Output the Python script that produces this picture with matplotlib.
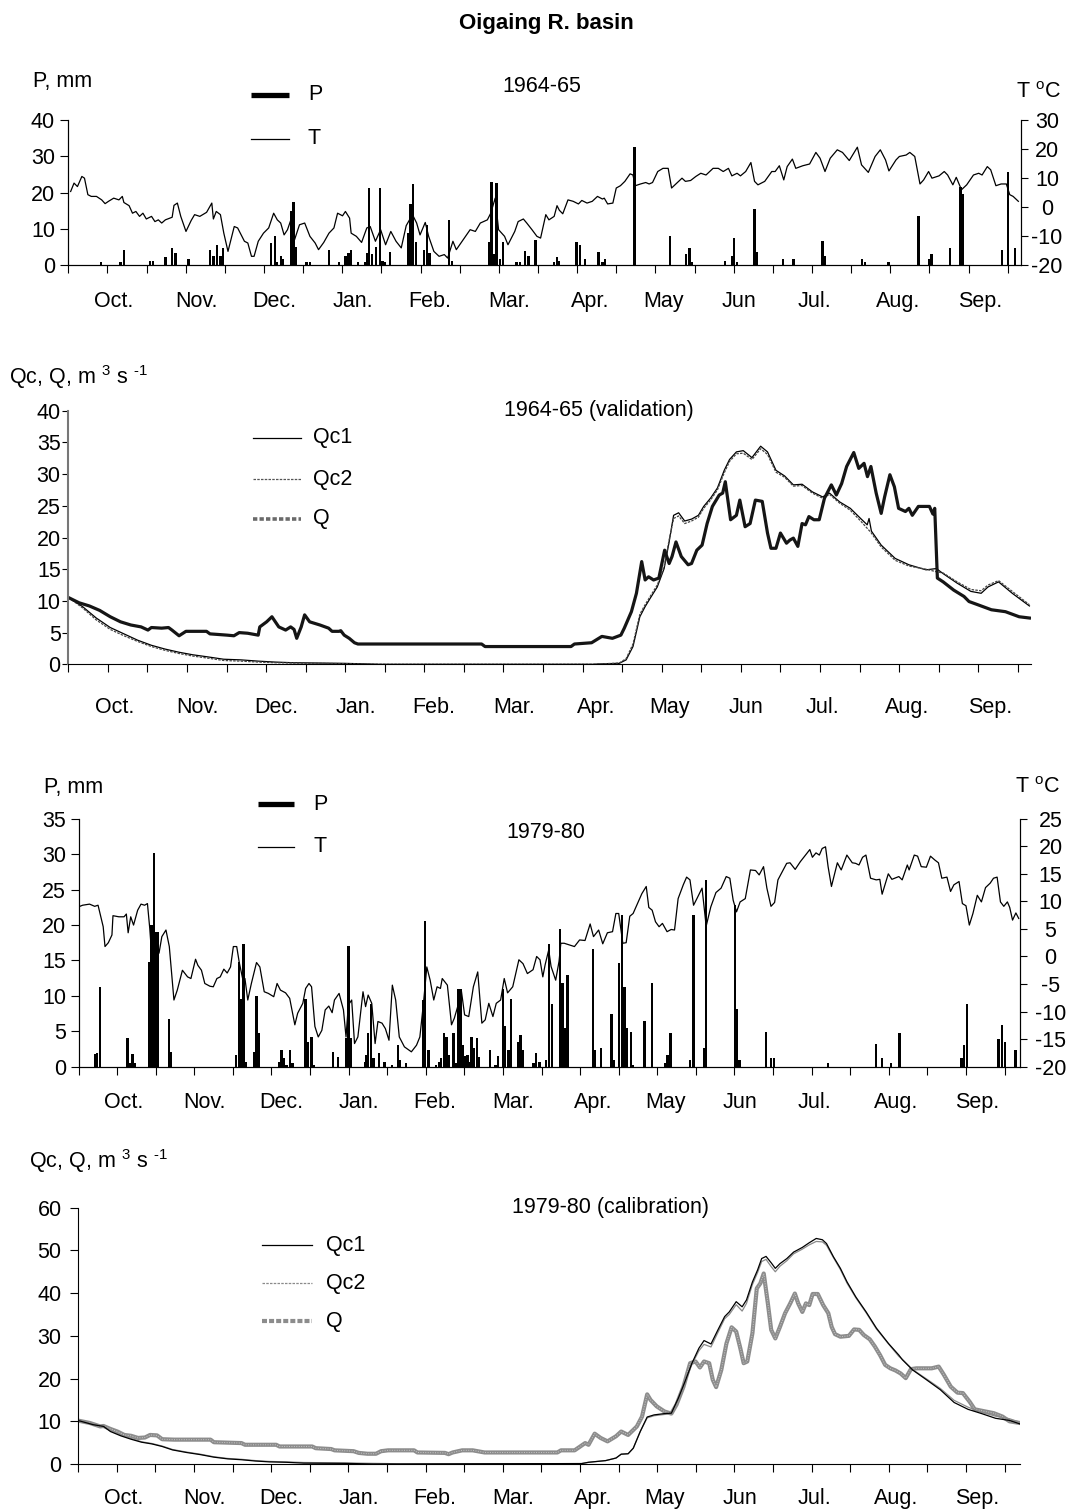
import numpy as np
import matplotlib
matplotlib.use("Agg")
import matplotlib.pyplot as plt
from matplotlib.lines import Line2D

plt.rcParams['font.family'] = ['Liberation Sans', 'DejaVu Sans']
plt.rcParams['mathtext.fontset'] = 'custom'
plt.rcParams['mathtext.rm'] = 'Liberation Sans'
plt.rcParams['mathtext.it'] = 'Liberation Sans:italic'
plt.rcParams['axes.unicode_minus'] = False
FS = 15.5
plt.rcParams['font.size'] = FS

# hydrological year, day 0 = 1 October
months = ['Oct.', 'Nov.', 'Dec.', 'Jan.', 'Feb.', 'Mar.', 'Apr.', 'May', 'Jun', 'Jul.', 'Aug.', 'Sep.']
month_pos = [17.5, 49, 79, 109, 138.5, 169, 200, 228, 257, 286, 318, 349.5]

# ---- 1964-65: daily precipitation (day, mm) and air temperature (day, degC)
p_6465 = [(12.5, 0.7), (20.0, 0.7), (21.3, 4.2), (31.2, 1.2), (32.5, 1.2), (37.2, 2.2), (39.8, 4.7),
          (41.1, 3.3), (46.1, 1.7), (54.3, 4.2), (55.6, 2.6), (57.0, 5.6), (58.3, 2.6), (59.3, 4.7),
          (77.8, 6.1), (79.1, 8.1), (80.1, 0.7), (81.4, 2.6), (82.4, 1.7), (85.3, 15.0), (86.3, 17.3),
          (87.3, 5.1), (91.3, 0.7), (92.6, 0.7), (99.9, 4.2), (103.8, 0.7), (106.2, 2.6), (107.4, 3.3),
          (108.4, 4.2), (111.1, 0.7), (113.7, 0.7), (114.4, 3.3), (115.2, 21.4), (116.4, 3.1),
          (118.0, 5.1), (119.4, 21.4), (120.4, 1.2), (121.4, 0.7), (123.4, 3.6), (130.2, 8.8),
          (131.1, 16.9), (132.2, 22.4), (133.3, 6.3), (136.4, 4.2), (137.5, 11.0), (138.4, 3.3),
          (146.0, 12.5), (147.0, 1.2), (161.2, 6.3), (162.2, 23.0), (163.2, 3.1), (164.1, 22.6),
          (165.5, 1.7), (166.5, 6.3), (171.8, 0.7), (173.1, 0.7), (175.1, 3.8), (176.4, 2.4),
          (179.1, 7.0), (186.2, 0.7), (187.3, 2.2), (188.0, 1.2), (194.8, 6.3), (196.1, 5.6),
          (198.1, 1.7), (203.2, 3.6), (204.7, 0.7), (205.8, 1.7), (217.0, 32.7), (230.5, 8.1),
          (236.8, 3.1), (238.1, 4.7), (239.1, 0.7), (251.7, 1.2), (254.3, 2.6), (255.0, 7.4),
          (256.3, 0.7), (263.0, 15.4), (264.0, 3.6), (273.9, 1.7), (277.9, 1.7), (289.0, 6.5),
          (289.8, 2.6), (304.3, 1.7), (305.3, 0.7), (314.3, 0.7), (325.8, 13.6), (330.1, 1.7),
          (330.8, 3.1), (337.9, 4.7), (341.9, 21.5), (342.8, 19.5), (357.9, 4.2), (360.1, 25.8),
          (362.8, 4.7)]

t_6465 = [(0.9, 5.4), (2.2, 8.3), (3.5, 7.1), (5.2, 10.6), (6.2, 10.0), (7.5, 4.3), (8.8, 3.7),
          (10.8, 3.7), (12.8, 2.5), (14.1, 1.2), (15.4, 2.0), (17.4, 3.1), (19.4, 2.5), (20.7, 3.7),
          (21.3, 1.6), (23.3, 0.5), (24.6, -2.1), (25.9, -1.5), (27.3, -3.2), (28.6, -2.1),
          (29.9, -4.1), (31.9, -3.2), (33.2, -5.0), (34.5, -4.4), (35.8, -5.5), (37.2, -4.4),
          (39.8, -3.5), (40.5, 0.6), (41.8, 1.4), (43.1, -3.2), (45.1, -8.4), (47.1, -4.6),
          (48.4, -2.6), (50.4, -3.2), (53.0, -1.8), (55.0, 1.4), (55.6, -4.1), (56.7, -1.5),
          (58.3, -2.6), (59.6, -9.0), (61.2, -15.3), (63.6, -6.7), (64.9, -7.2), (67.5, -11.8),
          (68.8, -12.4), (70.2, -17.0), (71.2, -17.0), (72.8, -11.8), (74.8, -9.0), (76.8, -7.2),
          (78.7, -2.1), (80.1, -4.4), (81.4, -5.5), (82.7, -9.6), (84.0, -7.8), (85.3, -4.4),
          (86.7, -11.3), (88.6, -6.1), (90.6, -5.5), (92.6, -10.1), (94.6, -12.4), (95.9, -14.7),
          (97.9, -12.2), (99.9, -9.0), (101.8, -7.2), (103.2, -2.1), (105.1, -3.0), (106.2, -1.5),
          (107.8, -3.8), (108.4, -9.0), (110.4, -10.1), (112.4, -12.2), (114.4, -7.2),
          (115.7, -6.7), (117.7, -11.8), (119.7, -7.8), (121.6, -13.0), (123.6, -8.4),
          (125.6, -11.8), (127.6, -14.1), (129.5, -6.4), (131.9, -2.6), (133.5, -5.5),
          (134.8, -9.6), (136.8, -5.3), (138.1, -10.1), (140.1, -15.3), (142.1, -17.0),
          (144.1, -16.4), (145.4, -17.6), (147.4, -11.8), (148.7, -14.7), (151.3, -11.3),
          (154.0, -7.8), (156.0, -8.4), (157.9, -5.5), (160.6, -4.4), (161.9, -2.1), (163.6, 3.1),
          (164.9, -7.8), (167.2, -10.1), (168.5, -13.0), (171.1, -8.4), (172.4, -5.0),
          (174.4, -4.1), (175.7, -5.5), (177.7, -7.8), (179.6, -10.1), (181.0, -10.7),
          (183.0, -2.6), (184.2, -4.4), (186.2, -3.2), (187.3, 0.5), (188.2, -1.1), (189.5, -2.3),
          (191.5, 2.5), (193.5, 2.0), (195.5, 1.1), (196.8, 2.3), (198.8, 1.4), (200.8, 2.0),
          (202.8, 3.7), (204.7, 2.8), (205.4, 3.1), (206.7, 1.1), (208.7, 1.4), (210.0, 6.6),
          (211.6, 7.4), (213.3, 8.9), (215.3, 11.5), (216.4, 11.1), (217.3, 7.4), (219.3, 8.0),
          (221.3, 8.5), (222.6, 8.0), (223.9, 8.5), (225.9, 12.3), (227.9, 13.4), (229.9, 13.4),
          (231.2, 6.6), (232.5, 7.7), (235.2, 10.0), (236.5, 8.9), (238.5, 9.2), (240.5, 10.6),
          (242.4, 11.7), (244.4, 11.1), (247.1, 13.4), (249.1, 13.4), (251.0, 12.3), (253.0, 13.4),
          (254.3, 10.8), (256.3, 11.7), (257.6, 10.8), (259.6, 12.3), (261.6, 15.4), (263.0, 8.9),
          (264.3, 7.7), (266.9, 8.9), (269.6, 12.3), (270.9, 12.3), (272.5, 14.3), (274.2, 9.4),
          (275.5, 14.0), (277.5, 16.6), (278.8, 13.4), (281.5, 14.3), (284.1, 14.9), (286.5, 18.9),
          (288.1, 16.9), (290.0, 12.3), (292.0, 16.9), (294.7, 19.8), (296.7, 18.9), (299.3, 16.1),
          (302.4, 20.7), (304.0, 14.6), (306.6, 12.0), (309.2, 17.5), (311.2, 19.8), (313.2, 16.3),
          (314.5, 12.5), (317.2, 16.3), (318.5, 17.5), (321.1, 18.0), (322.5, 18.9), (324.4, 17.5),
          (326.4, 8.0), (327.8, 9.4), (329.7, 12.3), (331.0, 10.0), (333.7, 10.8), (335.7, 12.3),
          (337.0, 11.1), (339.0, 7.7), (340.3, 10.3), (342.3, 6.0), (344.3, 7.7), (346.9, 11.1),
          (348.9, 11.7), (350.2, 11.1), (352.2, 14.0), (353.5, 12.9), (355.5, 7.4), (357.5, 8.0),
          (359.5, 8.0), (360.8, 4.3), (362.1, 3.7), (364.1, 2.0)]

# ---- 1964-65: computed (Qc1, Qc2) and observed (Q) discharge, m3/s
qc1_6465 = [(0.2, 10.5), (5.4, 9.1), (10.6, 7.3), (15.9, 5.8), (21.1, 4.8), (26.3, 3.8), (31.5, 3.0),
            (36.7, 2.4), (42.0, 1.9), (47.2, 1.5), (52.4, 1.2), (58.9, 0.8), (65.4, 0.7), (72.0, 0.5),
            (78.5, 0.35), (85.0, 0.25), (104.6, 0.15), (113.7, 0.05), (118.0, 0.0), (199.0, 0.0),
            (201.0, 0.05), (208.9, 0.15), (211.5, 0.7), (214.1, 2.8), (216.7, 7.5), (218.7, 9.1),
            (220.6, 10.4), (223.3, 12.2), (225.9, 15.1), (227.8, 19.3), (229.5, 23.5), (231.4, 23.9),
            (233.7, 22.6), (236.3, 22.9), (238.9, 23.5), (240.9, 24.9), (243.5, 26.2), (246.1, 27.8),
            (248.7, 30.6), (250.7, 32.3), (253.3, 33.5), (255.9, 33.7), (259.2, 32.6), (262.5, 34.4),
            (265.1, 33.5), (268.3, 30.6), (271.6, 29.7), (274.9, 28.3), (278.2, 28.4), (282.1, 27.2),
            (286.0, 26.4), (288.6, 27.0), (292.5, 25.6), (296.5, 24.6), (300.4, 23.0), (302.9, 22.0),
            (303.6, 23.0), (304.5, 21.0), (308.2, 18.8), (313.5, 16.7), (318.7, 15.7), (325.2, 14.9),
            (329.1, 15.1), (331.7, 14.3), (337.0, 12.8), (342.2, 11.5), (346.1, 11.2), (348.7, 12.2),
            (352.7, 13.0), (357.9, 11.2), (364.4, 9.2)]

qc2_6465 = [(0.2, 10.5), (5.4, 8.9), (10.6, 7.0), (15.9, 5.5), (21.1, 4.5), (26.3, 3.6), (31.5, 2.8),
            (36.7, 2.2), (42.0, 1.7), (47.2, 1.3), (52.4, 1.0), (58.9, 0.6), (65.4, 0.5), (72.0, 0.35),
            (78.5, 0.25), (85.0, 0.2), (104.6, 0.1), (113.7, 0.03), (120.0, 0.0), (199.0, 0.0),
            (201.0, 0.05), (208.9, 0.2), (211.5, 0.9), (214.1, 3.2), (216.7, 7.9), (218.7, 9.4),
            (220.6, 10.7), (223.3, 12.5), (225.9, 15.4), (227.8, 19.6), (229.5, 23.0), (231.4, 23.4),
            (233.7, 22.2), (236.3, 22.6), (238.9, 23.2), (240.9, 24.6), (243.5, 25.9), (246.1, 27.5),
            (248.7, 30.2), (250.7, 32.0), (253.3, 33.2), (255.9, 33.3), (259.2, 32.3), (262.5, 34.0),
            (265.1, 33.1), (268.3, 30.3), (271.6, 29.5), (274.9, 28.1), (278.2, 28.2), (282.1, 27.0),
            (286.0, 26.2), (288.6, 26.8), (292.5, 25.4), (296.5, 24.3), (300.4, 22.6), (304.3, 20.8),
            (308.2, 18.5), (313.5, 16.4), (318.7, 15.5), (325.2, 15.0), (329.1, 14.6), (331.7, 14.4),
            (337.0, 13.0), (342.2, 11.8), (346.1, 11.6), (348.7, 12.5), (352.7, 13.2), (357.9, 11.5),
            (364.4, 9.4)]

q_6465 = [(0.2, 10.5), (4.1, 9.7), (8.0, 9.2), (11.9, 8.5), (15.9, 7.5), (19.8, 6.7), (23.7, 6.2),
          (27.6, 5.9), (30.2, 5.4), (31.5, 5.8), (35.4, 5.7), (38.0, 5.8), (39.3, 5.4), (42.0, 4.5),
          (44.6, 5.2), (52.4, 5.2), (53.7, 4.8), (60.2, 4.6), (62.8, 4.5), (64.8, 5.0), (68.0, 4.9),
          (72.0, 4.6), (72.6, 5.9), (75.2, 6.7), (77.2, 7.5), (79.8, 5.9), (82.4, 5.4), (84.3, 5.9),
          (85.6, 5.5), (86.6, 4.1), (88.3, 5.9), (89.6, 7.8), (91.5, 6.7), (95.4, 6.2), (98.7, 5.7),
          (100.0, 5.2), (102.6, 5.2), (103.3, 5.3), (104.6, 4.6), (106.5, 4.1), (108.5, 3.4),
          (109.8, 3.2), (156.7, 3.2), (158.0, 2.8), (190.6, 2.8), (191.9, 3.2), (198.4, 3.4),
          (202.3, 4.4), (206.3, 4.1), (209.5, 4.6), (210.8, 5.7), (213.5, 8.3), (215.4, 11.2),
          (217.4, 16.2), (218.7, 13.3), (220.0, 13.8), (221.9, 13.3), (223.9, 13.6), (226.1, 18.0),
          (227.8, 15.9), (228.9, 17.0), (230.4, 19.3), (232.4, 17.0), (235.0, 15.7), (236.3, 15.9),
          (238.3, 18.0), (240.3, 18.8), (242.2, 22.2), (244.2, 24.9), (246.8, 26.7), (248.1, 27.0),
          (249.1, 28.8), (251.1, 22.8), (253.3, 23.5), (254.6, 25.9), (256.6, 21.7), (258.5, 22.2),
          (260.5, 25.9), (263.1, 25.7), (265.1, 20.7), (266.4, 18.3), (268.3, 18.3), (270.0, 20.7),
          (272.3, 19.1), (273.6, 19.6), (274.9, 19.9), (276.6, 18.6), (278.2, 22.2), (279.5, 22.0),
          (280.8, 23.3), (282.7, 22.8), (284.7, 22.8), (286.7, 26.2), (289.3, 28.3), (291.2, 26.7),
          (293.2, 28.5), (295.1, 31.2), (297.8, 33.4), (299.7, 30.9), (301.7, 31.7), (303.0, 29.6),
          (304.3, 31.2), (306.3, 27.0), (308.2, 23.8), (309.5, 26.4), (311.5, 29.9), (313.2, 28.0),
          (314.8, 24.6), (317.4, 24.1), (318.7, 24.6), (320.0, 23.5), (322.3, 24.9), (326.5, 24.9),
          (327.8, 23.7), (328.5, 24.6), (329.5, 13.6), (331.7, 13.0), (335.7, 11.7), (339.6, 10.7),
          (341.5, 9.9), (344.8, 9.4), (350.0, 8.6), (355.3, 8.3), (360.5, 7.5), (364.4, 7.3)]

# ---- 1979-80: daily precipitation (day, mm) and air temperature (day, degC)
p_7980 = [(6.3, 1.8), (7.2, 2.0), (8.3, 11.3), (19.0, 4.1), (20.1, 0.5), (21.0, 1.8), (22.0, 0.5),
          (27.3, 14.8), (28.4, 20.0), (29.3, 30.2), (30.0, 19.0), (30.8, 19.0), (35.1, 6.8),
          (36.0, 2.1), (61.1, 1.6), (62.5, 14.8), (63.4, 9.6), (64.2, 17.3), (65.2, 0.7), (68.2, 2.1),
          (69.2, 10.0), (70.1, 4.7), (77.9, 0.6), (78.9, 2.4), (79.9, 1.2), (80.9, 0.2), (82.1, 2.4),
          (83.2, 0.5), (88.3, 9.6), (89.2, 3.5), (90.6, 4.2), (91.5, 0.2), (99.0, 2.1), (101.0, 1.4),
          (104.0, 4.0), (104.9, 17.0), (106.0, 4.0), (111.3, 0.7), (112.0, 1.6), (112.6, 4.7),
          (113.7, 8.9), (114.7, 1.2), (116.7, 1.9), (118.9, 0.7), (122.0, 0.2), (124.3, 3.1),
          (125.1, 1.0), (127.4, 0.5), (133.8, 9.4), (134.7, 20.5), (136.1, 2.4), (139.1, 0.2),
          (140.1, 0.6), (141.0, 1.2), (142.1, 4.7), (143.1, 4.2), (144.1, 1.6), (145.8, 4.7),
          (146.8, 0.5), (147.7, 10.9), (148.5, 10.9), (149.4, 3.1), (150.4, 1.5), (151.2, 1.6),
          (152.1, 0.7), (152.8, 4.2), (153.8, 2.6), (154.8, 4.1), (155.7, 1.4), (160.1, 2.4),
          (162.1, 0.2), (163.2, 1.5), (165.1, 11.0), (165.9, 5.7), (167.2, 2.4), (168.2, 9.6),
          (170.8, 3.5), (171.8, 4.5), (172.6, 2.4), (176.9, 0.5), (177.9, 1.9), (179.2, 0.6),
          (181.8, 1.0), (182.8, 17.3), (184.1, 8.9), (187.2, 19.4), (188.1, 11.8), (189.2, 5.4),
          (190.1, 12.9), (199.9, 16.6), (200.9, 2.4), (203.2, 2.6), (207.2, 7.5), (208.2, 1.0),
          (210.0, 14.7), (211.3, 21.4), (212.3, 11.3), (213.3, 5.4), (214.7, 4.9), (215.6, 0.2),
          (220.0, 6.5), (223.0, 11.8), (228.1, 0.5), (229.0, 1.6), (230.1, 4.7), (237.7, 1.0),
          (239.1, 21.4), (243.1, 2.6), (244.0, 26.3), (255.2, 22.8), (255.8, 8.1), (256.9, 1.0),
          (267.2, 4.9), (269.2, 1.2), (270.3, 1.2), (291.4, 0.5), (310.1, 3.2), (312.4, 1.2),
          (315.9, 0.5), (319.1, 4.7), (343.3, 1.2), (344.1, 3.1), (345.4, 8.8), (357.7, 3.9),
          (359.1, 5.9), (360.1, 3.5), (364.2, 2.4)]

t_7980 = [(0.0, 9.0), (1.6, 9.3), (4.3, 9.5), (6.3, 9.1), (7.6, 9.3), (9.6, 5.4), (10.3, 1.8),
          (11.6, 2.5), (13.0, 3.9), (13.4, 7.4), (15.7, 7.2), (17.7, 7.2), (18.6, 7.7), (19.3, 4.3),
          (20.3, 7.2), (21.4, 5.7), (23.0, 8.4), (24.3, 9.5), (25.7, 9.3), (26.8, 9.6), (27.7, 5.1),
          (28.4, 0.6), (30.0, 1.8), (31.3, 0.6), (32.4, 3.6), (34.0, 4.8), (35.3, 1.8), (37.1, -7.9),
          (38.4, -6.1), (40.4, -2.5), (42.4, -3.7), (43.7, -4.0), (45.5, -0.5), (46.4, -1.6),
          (47.8, -2.5), (49.1, -4.9), (51.1, -5.4), (52.4, -5.5), (53.8, -4.0), (55.1, -3.7),
          (56.5, -2.3), (57.8, -3.0), (59.1, -1.9), (60.2, 1.8), (61.5, 1.8), (62.5, -1.1),
          (63.8, -4.0), (64.7, -4.0), (65.8, -7.9), (67.2, -4.9), (69.2, -1.1), (70.5, -1.9),
          (72.2, -6.4), (73.8, -6.7), (75.9, -7.3), (77.2, -4.9), (78.5, -6.1), (80.5, -6.6),
          (82.1, -7.6), (84.1, -12.4), (85.2, -10.3), (87.2, -8.5), (88.3, -5.8), (89.6, -4.9),
          (90.6, -5.5), (91.9, -12.7), (93.2, -14.6), (94.6, -13.4), (95.9, -9.7), (97.3, -9.0),
          (98.6, -10.2), (99.5, -7.9), (101.3, -6.7), (103.0, -9.7), (104.0, -14.6), (104.9, -8.8),
          (106.2, -7.9), (107.3, -15.8), (108.6, -14.6), (110.6, -6.4), (111.6, -9.1), (112.6, -7.0),
          (114.0, -8.5), (115.3, -15.8), (116.4, -11.8), (118.0, -12.1), (119.3, -13.1),
          (120.7, -15.2), (122.0, -5.2), (123.3, -7.9), (124.7, -14.6), (126.7, -16.4),
          (129.4, -17.3), (131.4, -16.1), (132.7, -14.6), (134.1, -8.5), (135.4, -1.9),
          (136.7, -4.3), (138.1, -7.9), (139.4, -5.5), (140.7, -5.8), (141.4, -4.0), (143.4, -5.2),
          (145.0, -12.4), (146.1, -11.2), (147.4, -9.1), (148.8, -6.1), (150.1, -10.6),
          (151.7, -10.9), (153.5, -5.5), (155.2, -2.8), (156.8, -12.1), (158.1, -11.5),
          (159.5, -8.5), (161.1, -10.9), (162.4, -8.5), (164.1, -7.9), (165.5, -4.0), (166.8, -6.6),
          (168.8, -5.5), (171.2, -0.6), (172.8, -1.3), (174.5, -3.1), (176.7, -2.4), (178.1, 0.0),
          (179.4, -0.6), (180.5, -3.7), (181.4, -1.5), (182.8, 1.2), (183.7, -1.8), (185.5, -4.3),
          (186.8, -0.9), (187.5, 2.4), (188.8, 2.4), (190.8, 2.1), (192.8, 1.8), (194.8, 3.0),
          (196.9, 2.9), (198.9, 5.9), (200.2, 3.6), (202.2, 4.8), (203.8, 2.3), (205.6, 4.3),
          (207.6, 4.5), (208.9, 7.8), (210.0, 7.8), (211.6, 2.4), (212.9, 2.5), (214.3, 7.3),
          (215.6, 7.8), (217.0, 9.3), (219.0, 11.4), (220.7, 12.7), (221.7, 8.9), (223.0, 8.4),
          (224.3, 6.3), (225.7, 5.4), (227.0, 6.0), (228.8, 4.5), (230.4, 4.9), (231.7, 4.8),
          (233.1, 10.5), (235.1, 13.0), (236.4, 14.4), (237.7, 13.9), (239.1, 9.3), (240.4, 10.5),
          (242.4, 12.4), (244.0, 5.5), (245.8, 9.0), (247.8, 11.6), (249.8, 12.4), (251.8, 14.5),
          (253.2, 14.2), (254.5, 10.2), (255.8, 8.1), (257.2, 9.9), (259.2, 10.5), (261.2, 15.7),
          (263.2, 15.6), (264.6, 14.8), (266.3, 16.3), (267.6, 12.4), (269.2, 9.1), (270.6, 9.8),
          (271.9, 13.9), (275.3, 16.9), (276.6, 17.0), (278.6, 15.8), (280.6, 17.2), (282.6, 18.4),
          (284.3, 19.4), (285.3, 18.0), (286.7, 18.8), (288.0, 18.4), (289.1, 19.6), (290.4, 19.9),
          (291.4, 16.3), (292.7, 12.7), (295.0, 17.0), (296.5, 15.7), (298.7, 18.4), (300.8, 17.0),
          (302.1, 16.9), (303.4, 16.6), (304.8, 18.0), (306.1, 18.4), (307.9, 14.2), (310.1, 13.9),
          (311.5, 14.0), (312.4, 11.3), (314.8, 15.0), (316.2, 14.0), (318.9, 14.5), (320.2, 13.9),
          (322.2, 16.6), (322.9, 15.7), (324.9, 18.4), (326.2, 18.2), (327.6, 16.3), (329.6, 16.2),
          (331.2, 18.2), (332.9, 17.5), (334.3, 17.0), (335.6, 14.2), (337.6, 14.4), (339.0, 11.8),
          (340.3, 13.0), (342.3, 13.6), (343.6, 9.6), (345.0, 9.2), (346.3, 5.7), (347.7, 7.8),
          (349.4, 11.1), (351.0, 9.9), (352.6, 12.5), (354.4, 13.3), (355.7, 14.2), (357.1, 14.4),
          (358.4, 9.9), (359.7, 9.1), (361.1, 9.9), (362.0, 8.9), (363.1, 6.6), (364.4, 7.9),
          (365.5, 6.9)]

# ---- 1979-80: computed (Qc1, Qc2) and observed (Q) discharge, m3/s
qc1_7980 = [(0.4, 10.1), (5.8, 9.2), (9.8, 8.8), (12.5, 7.6), (16.5, 6.6), (20.5, 5.8), (24.6, 5.1),
            (28.6, 4.7), (32.6, 4.1), (36.6, 3.3), (42.0, 2.7), (47.4, 2.2), (52.7, 1.6), (58.1, 1.2),
            (63.4, 1.0), (68.8, 0.7), (74.2, 0.5), (80.9, 0.4), (87.6, 0.2), (103.7, 0.15),
            (114.4, 0.0), (195.6, 0.1), (198.3, 0.4), (205.0, 0.8), (209.0, 1.4), (211.0, 2.3),
            (213.7, 2.4), (215.7, 3.7), (218.4, 7.6), (221.1, 11.0), (223.8, 11.5), (227.8, 11.8),
            (230.5, 11.9), (233.2, 15.4), (235.8, 19.3), (238.5, 23.6), (241.2, 27.1), (243.2, 28.9),
            (245.9, 28.1), (248.6, 31.4), (251.2, 34.5), (253.0, 35.6), (255.7, 38.0), (258.0, 36.8),
            (259.7, 38.4), (262.0, 42.6), (264.0, 45.4), (265.6, 48.1), (267.3, 48.6), (269.3, 47.1),
            (270.9, 45.8), (272.7, 46.9), (275.4, 48.1), (278.0, 49.6), (281.4, 50.7), (284.1, 51.8),
            (286.8, 52.8), (289.2, 52.5), (290.8, 51.6), (293.5, 48.5), (296.2, 45.8), (298.8, 42.6),
            (302.2, 39.1), (306.2, 35.6), (310.2, 31.8), (314.9, 28.2), (318.9, 25.5), (320.3, 24.4),
            (324.3, 22.0), (329.7, 19.7), (335.0, 17.4), (340.4, 14.4), (345.8, 12.8), (351.1, 11.8),
            (356.5, 10.7), (361.9, 10.2), (365.9, 9.4)]

qc2_7980 = [(0.4, 10.3), (5.8, 9.3), (9.8, 8.9), (12.5, 7.8), (16.5, 6.8), (20.5, 6.0), (24.6, 5.2),
            (28.6, 4.8), (32.6, 4.2), (36.6, 3.4), (42.0, 2.8), (47.4, 2.3), (52.7, 1.7), (58.1, 1.3),
            (63.4, 1.1), (68.8, 0.8), (74.2, 0.6), (80.9, 0.5), (87.6, 0.35), (103.7, 0.25),
            (114.4, 0.15), (120.4, 0.1), (125.0, 0.0), (195.6, 0.1), (198.3, 0.4), (205.0, 0.8),
            (209.0, 1.4), (211.0, 2.3), (213.7, 2.4), (215.7, 3.7), (218.4, 7.6), (221.1, 10.8),
            (223.8, 11.3), (227.8, 11.6), (230.5, 11.8), (233.2, 15.2), (235.8, 19.1), (238.5, 23.3),
            (241.2, 26.5), (243.2, 28.0), (245.9, 27.4), (248.6, 30.8), (251.2, 34.0), (253.0, 35.0),
            (255.7, 37.3), (258.0, 35.8), (259.7, 37.6), (262.0, 42.0), (264.0, 44.8), (265.6, 47.4),
            (267.3, 47.9), (269.3, 46.2), (270.9, 45.0), (272.7, 46.3), (275.4, 47.6), (278.0, 49.2),
            (281.4, 50.3), (284.1, 51.3), (286.8, 52.1), (289.2, 52.0), (290.8, 51.2), (293.5, 48.3),
            (296.2, 45.5), (298.8, 42.3), (302.2, 38.9), (306.2, 35.4), (310.2, 31.6), (314.9, 28.1),
            (318.9, 25.2), (320.3, 24.5), (324.3, 22.1), (329.7, 19.9), (335.0, 17.7), (340.4, 14.9),
            (345.8, 13.3), (351.1, 12.1), (356.5, 11.2), (361.9, 10.6), (365.9, 9.8)]

q_7980 = [(0.4, 10.1), (4.5, 9.6), (8.5, 8.8), (9.8, 8.9), (12.5, 8.2), (15.2, 7.6), (17.9, 6.8),
          (20.5, 6.6), (23.2, 6.1), (25.9, 6.2), (27.9, 6.8), (30.6, 6.7), (32.6, 5.8), (37.3, 5.7),
          (51.4, 5.7), (52.7, 5.1), (63.4, 4.9), (64.8, 4.5), (76.9, 4.5), (78.2, 4.1), (90.9, 4.1),
          (92.3, 3.7), (98.3, 3.5), (99.6, 3.2), (107.0, 3.0), (109.0, 2.6), (112.4, 2.4),
          (115.7, 2.4), (117.7, 3.0), (120.4, 3.2), (130.5, 3.2), (131.8, 2.7), (142.5, 2.6),
          (143.9, 2.3), (145.5, 2.7), (149.2, 3.2), (153.3, 3.2), (157.9, 2.7), (186.2, 2.7),
          (187.6, 3.2), (192.9, 3.2), (197.0, 4.9), (198.3, 4.5), (200.7, 7.1), (203.0, 6.1),
          (205.7, 5.3), (209.0, 6.5), (211.0, 7.6), (213.7, 6.8), (217.1, 8.8), (219.1, 11.1),
          (221.1, 16.3), (222.4, 15.0), (224.8, 13.5), (227.8, 12.3), (230.5, 11.8), (232.5, 13.9),
          (235.2, 18.1), (237.8, 23.6), (239.9, 24.0), (241.6, 22.6), (243.2, 24.0), (245.2, 23.6),
          (246.6, 19.7), (247.9, 18.0), (249.9, 22.0), (251.9, 28.2), (253.9, 32.0), (255.7, 31.0),
          (257.3, 27.1), (258.6, 23.6), (260.0, 24.0), (262.0, 30.6), (263.7, 41.1), (265.1, 42.3),
          (266.4, 44.6), (268.0, 37.6), (269.3, 31.4), (270.9, 29.4), (272.7, 32.1), (274.7, 35.3),
          (276.7, 37.6), (278.5, 39.9), (279.8, 37.6), (281.4, 35.6), (282.8, 37.6), (284.1, 37.2),
          (285.4, 39.8), (287.4, 39.8), (289.5, 37.2), (291.5, 35.3), (292.8, 32.1), (294.1, 30.4),
          (296.2, 29.8), (299.5, 30.0), (301.5, 31.5), (303.5, 31.4), (305.3, 30.2), (307.6, 29.2),
          (309.6, 27.5), (311.6, 25.5), (313.6, 23.2), (315.6, 22.4), (317.6, 21.9), (319.6, 21.2),
          (321.6, 20.1), (323.6, 22.2), (325.7, 22.4), (331.7, 22.4), (334.4, 22.8), (336.4, 20.9),
          (339.1, 18.1), (341.7, 16.7), (343.8, 16.6), (346.4, 14.6), (348.4, 12.8), (352.5, 12.3),
          (355.8, 11.9), (359.2, 11.1), (361.9, 10.0), (365.9, 9.6)]


def cols(pairs):
    a = np.array(pairs, dtype=float)
    return a[:, 0], a[:, 1]


W, H = 1071, 1511
fig = plt.figure(figsize=(W / 100, H / 100), dpi=100)


def px_axes(left, top, right, bottom):
    return fig.add_axes([left / W, 1 - bottom / H, (right - left) / W, (bottom - top) / H])


def fx(x):
    return x / W


def fy(y):
    return 1 - y / H


def time_axis(ax, ndays, label_pad):
    ax.set_xlim(0, ndays)
    ax.set_xticks(np.arange(0, ndays, 15))
    ax.set_xticklabels([])
    ax.set_xticks(month_pos, months, minor=True)
    ax.tick_params(axis='x', which='major', length=6, width=0.8, direction='out')
    ax.tick_params(axis='x', which='minor', length=0, pad=label_pad, labelsize=FS)
    ax.spines['top'].set_visible(False)


def legend_entry(x0, x1, y, xt, label, **kw):
    fig.add_artist(Line2D([fx(x0), fx(x1)], [fy(y), fy(y)], transform=fig.transFigure, **kw))
    fig.text(fx(xt), fy(y), label, va='center', ha='left', fontsize=FS)


def right_labels_centered(ax2, pad):
    ax2.tick_params(axis='y', length=5, width=0.8, pad=pad, labelsize=FS)
    for lab in ax2.get_yticklabels():
        lab.set_horizontalalignment('center')


QUNIT = r'Qc, Q, m $^{3}$ s $^{\text{-1}}$'
TUNIT = r'T $^{\mathrm{o}}$C'

fig.text(0.51, fy(23), 'Oigaing R. basin', ha='center', va='center', fontsize=16, fontweight='bold')

# ---------------- 1964-65 precipitation / temperature
ax1 = px_axes(68.3, 120.3, 1020.7, 265)
d, v = cols(p_6465)
ax1.bar(d, v, width=0.9, color='black', linewidth=0)
ax1.set_ylim(0, 40)
ax1.set_yticks(range(0, 41, 10))
ax1.tick_params(axis='y', length=6, width=0.8, pad=3.5, labelsize=FS)
time_axis(ax1, 365, 19)
ax1b = ax1.twinx()
d, v = cols(t_6465)
ax1b.plot(d, v, color='black', lw=0.9)
ax1b.set_ylim(-20, 30)
ax1b.set_yticks(range(-20, 31, 10))
ax1b.spines['top'].set_visible(False)
right_labels_centered(ax1b, 14)
fig.text(fx(33), fy(82), 'P, mm', va='center')
fig.text(fx(1016), fy(92), TUNIT, va='center')
fig.text(fx(542), fy(87), '1964-65', ha='center', va='center')
legend_entry(251, 289, 95, 308, 'P', color='black', lw=3.8, solid_capstyle='butt')
legend_entry(251, 289, 139, 308, 'T', color='black', lw=0.9)

# ---------------- 1964-65 discharge
ax2 = px_axes(68.3, 410.7, 1031, 664.3)
d, v = cols(qc1_6465)
ax2.plot(d, v, color='black', lw=0.9)
d, v = cols(qc2_6465)
ax2.plot(d, v, color='#444444', lw=0.9, ls=(0, (2, 1)))
d, v = cols(q_6465)
ax2.plot(d, v, color='#151515', lw=2.3)
ax2.set_ylim(0, 40)
ax2.set_yticks(range(0, 41, 5))
ax2.tick_params(axis='y', length=4, width=0.8, pad=1.5, labelsize=FS)
ax2.spines['right'].set_visible(False)
ax2.spines['left'].set_color('#777777')
ax2.spines['left'].set_linewidth(1.5)
time_axis(ax2, 365, 23.5)
fig.text(fx(9), fy(377), QUNIT, va='center')
fig.text(fx(599), fy(410), '1964-65 (validation)', ha='center', va='center')
legend_entry(253, 301, 438, 313, 'Qc1', color='black', lw=0.9)
legend_entry(253, 301, 479, 313, 'Qc2', color='#555555', lw=0.9, ls=(0, (2, 1)))
legend_entry(253, 301, 519, 313, 'Q', color='#6a6a6a', lw=2.6, ls=(0, (1.2, 0.6)))

# ---------------- 1979-80 precipitation / temperature
ax3 = px_axes(78.5, 818.7, 1020, 1066.7)
d, v = cols(p_7980)
ax3.bar(d, v, width=0.9, color='black', linewidth=0)
ax3.set_ylim(0, 35)
ax3.set_yticks(range(0, 36, 5))
ax3.tick_params(axis='y', length=6, width=0.8, pad=3, labelsize=FS)
time_axis(ax3, 366, 18)
ax3b = ax3.twinx()
d, v = cols(t_7980)
ax3b.plot(d, v, color='black', lw=0.9)
ax3b.set_ylim(-20, 25)
ax3b.set_yticks(range(-20, 26, 5))
ax3b.spines['top'].set_visible(False)
right_labels_centered(ax3b, 17)
fig.text(fx(44), fy(788), 'P, mm', va='center')
fig.text(fx(1015), fy(787), TUNIT, va='center')
fig.text(fx(546), fy(833), '1979-80', ha='center', va='center')
legend_entry(258, 294, 804, 313, 'P', color='black', lw=3.8, solid_capstyle='butt')
legend_entry(258, 294, 847, 313, 'T', color='black', lw=0.9)

# ---------------- 1979-80 discharge
ax4 = px_axes(78.3, 1207.7, 1020, 1464)
d, v = cols(q_7980)
ax4.plot(d, v, color='#8c8c8c', lw=3.0)
ax4.plot(d, v, color='#c8c8c8', lw=0.7, ls=(0, (1, 1.5)))
d, v = cols(qc2_7980)
ax4.plot(d, v, color='#8a8a8a', lw=0.9)
d, v = cols(qc1_7980)
ax4.plot(d, v, color='black', lw=0.9)
ax4.set_ylim(0, 60)
ax4.set_yticks(range(0, 61, 10))
ax4.tick_params(axis='y', length=6, width=0.8, pad=6, labelsize=FS)
ax4.spines['right'].set_visible(False)
time_axis(ax4, 366, 17.5)
fig.text(fx(29), fy(1161), QUNIT, va='center')
fig.text(fx(610), fy(1207), '1979-80 (calibration)', ha='center', va='center')
legend_entry(262, 312, 1245, 326, 'Qc1', color='black', lw=0.9)
legend_entry(262, 312, 1283, 326, 'Qc2', color='#8a8a8a', lw=0.9, ls=(0, (2, 1)))
legend_entry(262, 312, 1321, 326, 'Q', color='#8c8c8c', lw=3.0, ls=(0, (1.2, 0.5)))

fig.savefig('out.png', dpi=100)
